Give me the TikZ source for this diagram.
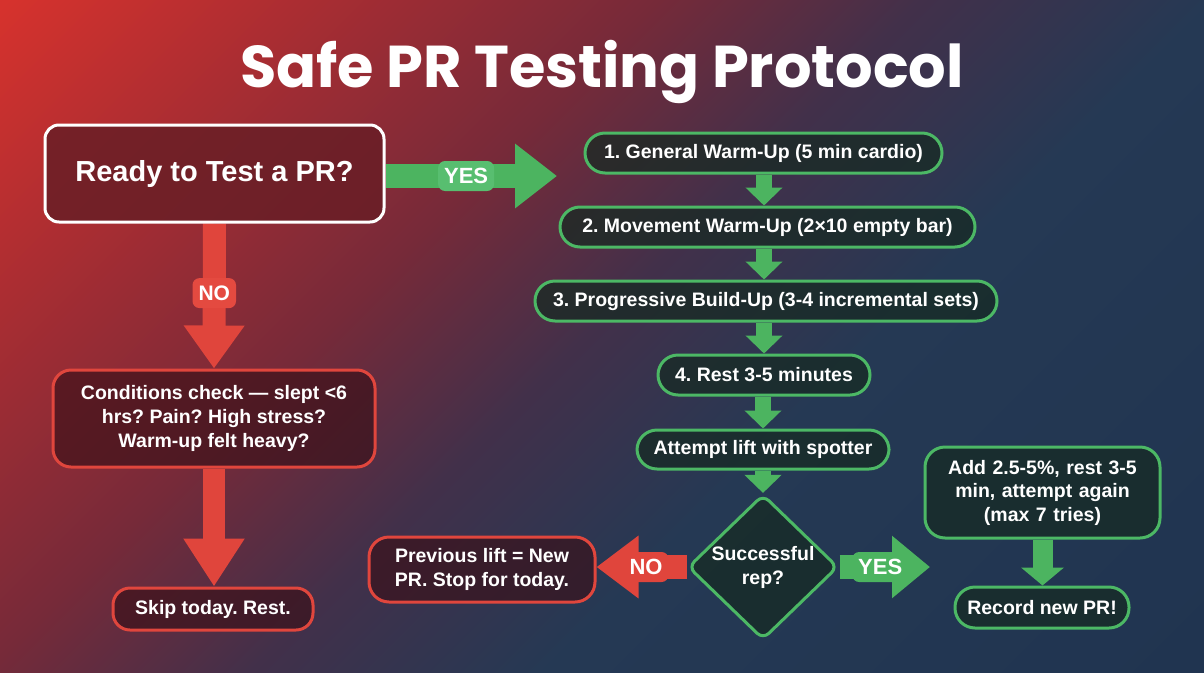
\documentclass[tikz,border=0pt]{standalone}
\usepackage{fontspec}
\setmainfont{Liberation Sans}
\newfontfamily\titlefont{Poppins}
\usetikzlibrary{arrows.meta,shapes.geometric}
\frenchspacing
\definecolor{bgred}{RGB}{214,50,45}
\definecolor{bgred2}{RGB}{170,45,50}
\definecolor{bgmaroon}{RGB}{118,42,57}
\definecolor{bgplum}{RGB}{66,48,74}
\definecolor{bgnavy}{RGB}{37,57,84}
\definecolor{bgnavy2}{RGB}{32,52,80}
\definecolor{gline}{RGB}{76,184,101}
\definecolor{garr}{RGB}{76,180,96}
\definecolor{gpill}{RGB}{88,190,112}
\definecolor{rline}{RGB}{224,70,61}
\definecolor{rarr}{RGB}{224,69,60}
\definecolor{rpill}{RGB}{228,74,64}
\definecolor{gfill}{RGB}{22,42,34}
\definecolor{rfill}{RGB}{58,16,24}
\definecolor{readyfill}{RGB}{105,30,38}
\pgfdeclarehorizontalshading{bgshade}{100bp}{color(0bp)=(bgred); color(22.5bp)=(bgred); color(31.3bp)=(bgred2); color(41.7bp)=(bgmaroon); color(49.5bp)=(bgplum); color(58.2bp)=(bgnavy); color(77.5bp)=(bgnavy2); color(100bp)=(bgnavy2)}
\pgfdeclarelayer{back}
\pgfdeclarelayer{arrows}
\pgfsetlayers{back,arrows,main}
\tikzset{
  txt/.style={text=white, font=\fontsize{19.5}{24}\selectfont\bfseries, align=center},
  gbox/.style={txt, draw=gline, line width=3pt, fill=gfill, fill opacity=0.72, text opacity=1, minimum height=40pt, inner xsep=12pt, inner ysep=4pt},
  rbox/.style={txt, draw=rline, line width=3pt, fill=rfill, fill opacity=0.65, text opacity=1, inner xsep=12pt},
  blockarrow/.style n args={4}{draw=#1, line width=#2, -{Triangle[width=#3, length=#4, fill=#1]}},
  pill/.style={txt, fill=#1, rounded corners=7pt, inner xsep=6pt, inner ysep=0pt, minimum height=30pt, font=\fontsize{22}{24}\selectfont\bfseries}
}
\begin{document}
\begin{tikzpicture}[x=1pt,y=-1pt]
\useasboundingbox (0,0) rectangle (1204,672);
\begin{pgfonlayer}{back}
\begin{scope}
\clip (0,0) rectangle (1204,672);
\shade[shading=bgshade, shading angle=-45] (0,-266) rectangle (1204,938);
\end{scope}
\end{pgfonlayer}

\node[text=white, font=\titlefont\bfseries\fontsize{59}{64}\selectfont] (title) at (602,72) {Safe PR Testing Protocol};

% left column
\node[txt, draw=white, line width=3pt, fill=readyfill, fill opacity=0.85, text opacity=1, rounded corners=14pt, minimum width=339pt, minimum height=97pt, font=\fontsize{29}{32}\selectfont\bfseries] (ready) at (214.5,173.5) {Ready to Test a PR?};
\node[rbox, rounded corners=18pt, minimum width=322pt, minimum height=97pt] (cond) at (214,418.5) {Conditions check — slept <6\\hrs? Pain? High stress?\\Warm-up felt heavy?};
\node[rbox, rounded corners=17pt, minimum width=200pt, minimum height=42pt] (skip) at (213,609) {Skip today. Rest.};

% right column
\node[gbox, rounded corners=20pt, minimum width=357pt] (s1) at (763.5,153) {1. General Warm-Up (5 min cardio)};
\node[gbox, rounded corners=20pt, minimum width=415pt] (s2) at (767.5,227) {2. Movement Warm-Up (2×10 empty bar)};
\node[gbox, rounded corners=20pt, minimum width=462pt] (s3) at (766,301) {3. Progressive Build-Up (3-4 incremental sets)};
\node[gbox, rounded corners=20pt, minimum width=212pt] (s4) at (764,375) {4. Rest 3-5 minutes};
\node[gbox, rounded corners=20pt, minimum width=252pt, minimum height=39pt] (s5) at (763,449.5) {Attempt lift with spotter};
\node[gbox, shape=diamond, rounded corners=8pt, minimum width=150pt, minimum height=122pt, inner sep=0pt] (dec) at (763,567) {Successful\\rep?};
\node[rbox, rounded corners=20pt, minimum width=226pt, minimum height=65pt] (prev) at (482,569.5) {Previous lift = New\\PR. Stop for today.};
\node[gbox, rounded corners=20pt, minimum width=235pt, minimum height=91pt, text width=205pt, font=\fontsize{19.5}{23.5}\selectfont\bfseries] (add) at (1042.5,492.5) {Add 2.5-5\%, rest 3-5\\min, attempt again\\(max 7 tries)};
\node[gbox, rounded corners=20pt, minimum width=174pt, minimum height=41pt] (rec) at (1042,607.5) {Record new PR!};

\coordinate (yesend) at (557,176);
\coordinate (yes2end) at (930,567);

\begin{pgfonlayer}{arrows}
\draw[blockarrow={garr}{24pt}{62pt}{42pt}] (ready.east |- yesend) -- (yesend)
  node[pill=gpill, pos=0.47] (yeslbl) {YES};
\draw[blockarrow={rarr}{23pt}{58pt}{43pt}] (ready.south) -- (cond.north)
  node[pill=rpill, pos=0.48, font=\fontsize{21}{24}\selectfont\bfseries] (nolbl) {NO};
\draw[blockarrow={rarr}{22pt}{58pt}{48pt}] (cond.south) -- (skip.north -| cond.south);
\draw[blockarrow={garr}{16pt}{36pt}{18pt}] (s4.north |- s1.south) -- (s4.north |- s2.north);
\draw[blockarrow={garr}{16pt}{36pt}{18pt}] (s4.north |- s2.south) -- (s4.north |- s3.north);
\draw[blockarrow={garr}{16pt}{36pt}{18pt}] (s4.north |- s3.south) -- (s4.north);
\draw[blockarrow={garr}{16pt}{36pt}{18pt}] (s5.north |- s4.south) -- (s5.north);
\draw[blockarrow={garr}{16pt}{36pt}{18pt}] (s5.south) -- (dec.north);
\draw[blockarrow={rarr}{24pt}{60pt}{42pt}] (dec.west) -- (prev.east |- dec.west)
  node[pill=rarr, pos=0.45] (nolbl2) {NO};
\draw[blockarrow={garr}{24pt}{60pt}{38pt}] (dec.east) -- (yes2end)
  node[pill=garr, pos=0.45] (yeslbl2) {YES};
\draw[blockarrow={garr}{20pt}{42pt}{18pt}] (add.south) -- (rec.north -| add.south);
\end{pgfonlayer}
\end{tikzpicture}
\end{document}
